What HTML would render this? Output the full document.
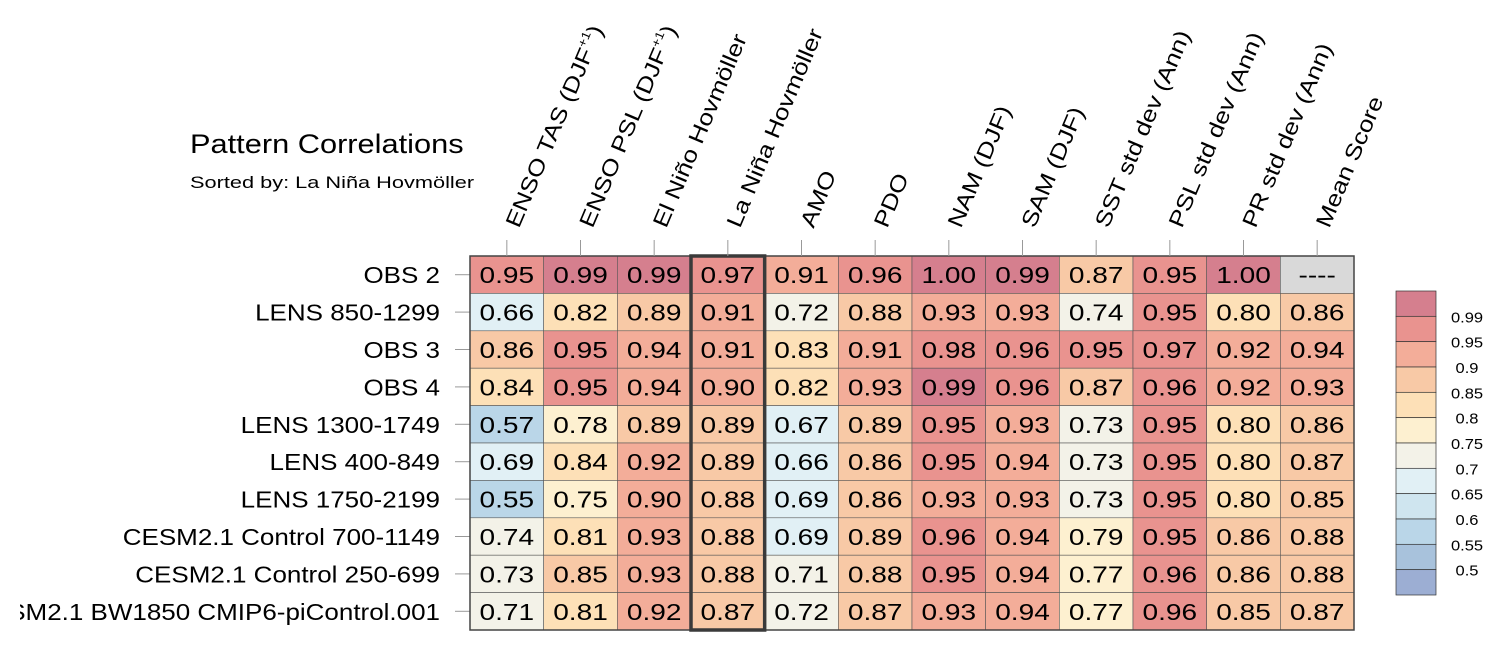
<!DOCTYPE html>
<html><head><meta charset="utf-8"><style>
html,body{margin:0;padding:0;background:#fff;}
svg{display:block;font-family:"Liberation Sans",sans-serif;}
</style></head><body>
<svg id="chart" width="1502" height="651" viewBox="0 0 1502 651" xmlns="http://www.w3.org/2000/svg">
<defs><clipPath id="lc"><rect x="20" y="0" width="460" height="651"/></clipPath></defs>
<text font-size="27" transform="translate(190,153) scale(1.14,1)">Pattern Correlations</text>
<text font-size="17" transform="translate(190,188) scale(1.28,1)">Sorted by: La Niña Hovmöller</text>
<g id="cells"></g><g id="vals"></g><g id="rowl" clip-path="url(#lc)"></g><g id="coll"></g><g id="cbar"></g>
</svg>
<script>
const columns=["ENSO TAS (DJF|+1|)","ENSO PSL (DJF|+1|)","El Niño Hovmöller","La Niña Hovmöller","AMO","PDO","NAM (DJF)","SAM (DJF)","SST std dev (Ann)","PSL std dev (Ann)","PR std dev (Ann)","Mean Score"];
const rows=["OBS 2","LENS 850-1299","OBS 3","OBS 4","LENS 1300-1749","LENS 400-849","LENS 1750-2199","CESM2.1 Control 700-1149","CESM2.1 Control 250-699","CESM2.1 BW1850 CMIP6-piControl.001"];
const values=[
[0.95,0.99,0.99,0.97,0.91,0.96,1.00,0.99,0.87,0.95,1.00,null],
[0.66,0.82,0.89,0.91,0.72,0.88,0.93,0.93,0.74,0.95,0.80,0.86],
[0.86,0.95,0.94,0.91,0.83,0.91,0.98,0.96,0.95,0.97,0.92,0.94],
[0.84,0.95,0.94,0.90,0.82,0.93,0.99,0.96,0.87,0.96,0.92,0.93],
[0.57,0.78,0.89,0.89,0.67,0.89,0.95,0.93,0.73,0.95,0.80,0.86],
[0.69,0.84,0.92,0.89,0.66,0.86,0.95,0.94,0.73,0.95,0.80,0.87],
[0.55,0.75,0.90,0.88,0.69,0.86,0.93,0.93,0.73,0.95,0.80,0.85],
[0.74,0.81,0.93,0.88,0.69,0.89,0.96,0.94,0.79,0.95,0.86,0.88],
[0.73,0.85,0.93,0.88,0.71,0.88,0.95,0.94,0.77,0.96,0.86,0.88],
[0.71,0.81,0.92,0.87,0.72,0.87,0.93,0.94,0.77,0.96,0.85,0.87]];
const levels=[0.5,0.55,0.6,0.65,0.7,0.75,0.8,0.85,0.9,0.95,0.99];
const levelLabels=["0.5","0.55","0.6","0.65","0.7","0.75","0.8","0.85","0.9","0.95","0.99"];
const palette=["#9caed3","#a8c2dc","#bad6e8","#cfe5ef","#e1f0f5","#f3f2e8","#fdf0d0","#fde0b7","#f8c9a6","#f3ad99","#e9938f","#d57f8e"];
const sortedCol=3;
const NS="http://www.w3.org/2000/svg";
const X0=470,X1=1354,Y0=256,Y1=630;
const cw=(X1-X0)/columns.length, rh=(Y1-Y0)/rows.length;
const xAt=i=>X0+i*cw, yAt=j=>Y0+j*rh;
function colorFor(v){if(v==null)return "#d9d9d9";const h=Math.round(v*100);let k=0;for(let i=0;i<levels.length;i++){if(h>=Math.round(levels[i]*100))k=i+1;}return palette[k];}
function mk(tag,attrs,parent){const e=document.createElementNS(NS,tag);for(const k in attrs)e.setAttribute(k,attrs[k]);parent.appendChild(e);return e;}
const cells=document.getElementById('cells'),vals=document.getElementById('vals'),rowl=document.getElementById('rowl'),coll=document.getElementById('coll'),cbar=document.getElementById('cbar');
rows.forEach((r,j)=>{
 values[j].forEach((v,i)=>{
  const rc=mk('rect',{x:xAt(i),y:yAt(j),width:cw,height:rh,fill:colorFor(v),stroke:"#555","stroke-width":0.6},cells);
  
  
  const t=mk('text',{"text-anchor":"middle","font-size":23,transform:`translate(${xAt(i)+cw/2},${yAt(j)+rh/2+8.5}) scale(1.22,1)`},vals);
  t.textContent=v==null?"----":v.toFixed(2);
  
  
 });
 const tk=mk('line',{x1:455,x2:470,y1:yAt(j)+rh/2,y2:yAt(j)+rh/2,stroke:"#999"},cells);
 
 
 const lt=mk('text',{"text-anchor":"end","font-size":23,transform:`translate(440,${yAt(j)+rh/2+8.5}) scale(1.13,1)`},rowl);
 lt.textContent=r;
 
 
});
const fr=mk('rect',{x:X0,y:Y0,width:X1-X0,height:Y1-Y0,fill:"none",stroke:"#444","stroke-width":1.5},cells);


const hl=mk('rect',{x:xAt(sortedCol),y:Y0,width:cw,height:Y1-Y0,fill:"none",stroke:"#3a3a3a","stroke-width":3.5},cells);


columns.forEach((c,i)=>{
 const cx=xAt(i)+cw/2;
 const tk=mk('line',{x1:cx,x2:cx,y1:240,y2:256,stroke:"#999"},coll);
 
 
 const t=mk('text',{"font-size":22,transform:`translate(${cx+12},229) rotate(-67) scale(1.18,1)`},coll);
 const parts=c.split('|');
 t.appendChild(document.createTextNode(parts[0]));
 if(parts.length>1){const s=mk('tspan',{"font-size":12,dy:-10},t);s.textContent=parts[1];const s2=mk('tspan',{dy:10},t);s2.textContent=parts[2];}
 
 
});
const CB0=291,CB1=595,cbx=1396,cbw=40,bh=(CB1-CB0)/palette.length;
palette.slice().reverse().forEach((p,k)=>{
 const r=mk('rect',{x:cbx,y:CB0+k*bh,width:cbw,height:bh,fill:p,stroke:"#333","stroke-width":0.7},cbar);
 
 
});
levelLabels.slice().reverse().forEach((l,k)=>{
 const t=mk('text',{"text-anchor":"middle","font-size":15,transform:`translate(1467,${CB0+(k+1)*bh+6}) scale(1.1,1)`},cbar);
 t.textContent=l;
 
 
});
</script>
</body></html>
